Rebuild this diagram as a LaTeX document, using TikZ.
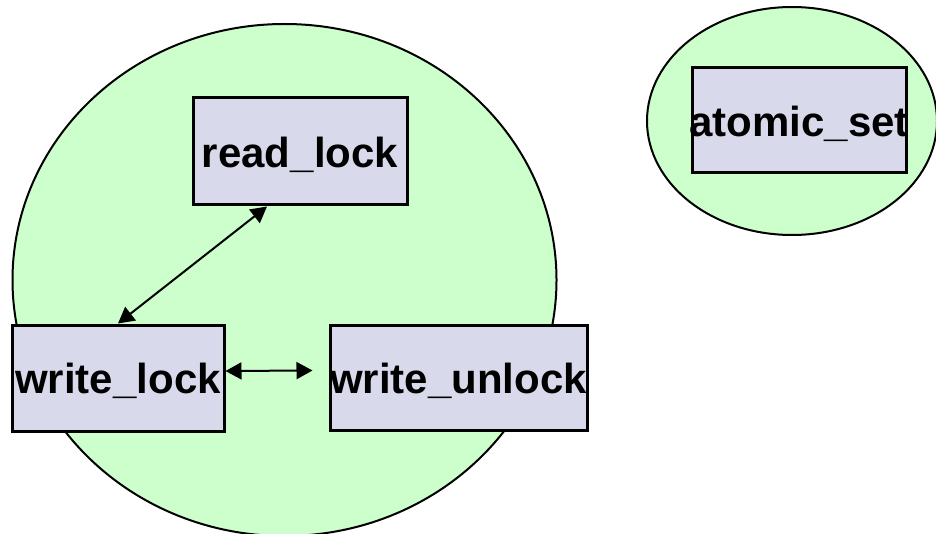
\documentclass[tikz,border=0pt]{standalone}
\usepackage{fontspec}
\setmainfont{Liberation Sans}
\usetikzlibrary{arrows.meta, calc}
\definecolor{groupgreen}{HTML}{CCFFCC}
\definecolor{opblue}{HTML}{D9D9EC}
% Beschriftung darf ueber den Kasten hinausragen
\newcommand{\opname}[1]{\makebox[0pt]{\raisebox{-1.5pt}[\height][\depth]{#1}}}

\begin{document}
\begin{tikzpicture}[x=0.5pt, y=-0.5pt,
    opbox/.style={draw, line width=1.5pt, fill=opblue, inner sep=0pt,
      font=\bfseries\fontsize{21}{24}\selectfont},
    link/.style={line width=1pt, {Triangle[length=8pt,width=8.5pt]}-{Triangle[length=8pt,width=8.5pt]}}]
  \useasboundingbox (0,0) rectangle (936,534);
  % Gruppen
  \filldraw[fill=groupgreen, line width=1pt] (284.5,280) ellipse [x radius=136pt, y radius=128pt];
  \filldraw[fill=groupgreen, line width=1pt] (792,121) ellipse [x radius=72.5pt, y radius=57pt];
  % Operationen
  \node[opbox, minimum width=107pt, minimum height=53.5pt] (rlock) at (300,151.5) {\opname{read\_lock}};
  \node[opbox, minimum width=106pt, minimum height=53pt] (wlock) at (118,378) {\opname{write\_lock}};
  \node[opbox, minimum width=128.5pt, minimum height=52.5pt] (wunlock) at (458.5,377.5) {\opname{write\_unlock}};
  \node[opbox, minimum width=107pt, minimum height=52.5pt] (aset) at (799,120.5) {\opname{atomic\_set}};
  % Verbindungen
  \draw[link] ([xshift=-16.5pt]rlock.south) -- (wlock.north);
  \draw[link] ([yshift=3.5pt]wlock.east) -- ([xshift=-8pt,yshift=3.5pt]wunlock.west);
\end{tikzpicture}
\end{document}
